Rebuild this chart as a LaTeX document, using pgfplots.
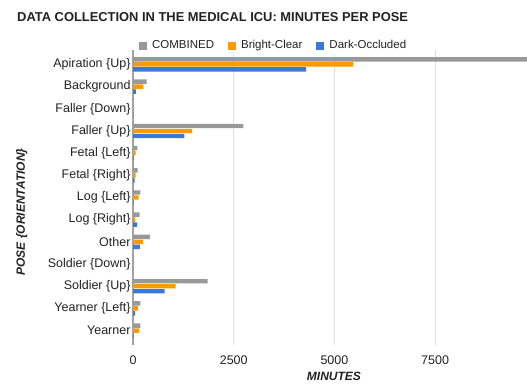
\documentclass[border=0pt]{standalone}
\usepackage{fontspec}
\setmainfont{Liberation Sans}
\usepackage{pgfplots}
\pgfplotsset{compat=1.18}
\definecolor{cgray}{HTML}{999999}
\definecolor{corange}{HTML}{FF9900}
\definecolor{cblue}{HTML}{3C78D8}
\definecolor{cgrid}{HTML}{DDDDDD}
\definecolor{ctext}{HTML}{222222}
\begin{document}
\begin{tikzpicture}
\path[use as bounding box] (0pt,0pt) rectangle (527pt,383pt);
\node[anchor=west, inner sep=0pt, text=ctext, font=\bfseries\fontsize{12.9}{15}\selectfont] at (17pt,365.5pt) {DATA COLLECTION IN THE MEDICAL ICU: MINUTES PER POSE};
\begin{axis}[
  at={(133pt,38pt)}, anchor=south west, scale only axis,
  width=394pt, height=295pt,
  xmin=0, xmax=9780, ymin=-0.65, ymax=12.65,
  y dir=reverse,
  axis line style={draw=none},
  major tick length=0pt,
  ytick={0,...,12},
  yticklabels={Apiration {\{Up\}},Background,Faller {\{Down\}},Faller {\{Up\}},Fetal {\{Left\}},Fetal {\{Right\}},Log {\{Left\}},Log {\{Right\}},Other,Soldier {\{Down\}},Soldier {\{Up\}},Yearner {\{Left\}},Yearner},
  xtick={2500,5000,7500},
  extra x ticks={0},
  extra x tick style={grid style={draw=cgray!90, line width=1.3pt}},
  xmajorgrids,
  grid style={draw=cgrid, line width=0.9pt},
  /pgf/number format/assume math mode=true,
  /pgf/number format/1000 sep={},
  tick label style={text=ctext, font=\fontsize{12.5}{14}\selectfont},
  yticklabel style={xshift=1pt},
  xticklabel style={yshift=-7.5pt},
  xlabel={MINUTES},
  ylabel={POSE \{ORIENTATION\}},
  label style={text=ctext, font=\bfseries\itshape\fontsize{12}{14}\selectfont},
  xlabel style={at={(axis description cs:0.51,-0.108)}, anchor=center},
  ylabel style={at={(axis description cs:-0.282,0.451)}, anchor=center},
  legend columns=3,
  legend style={at={(axis description cs:0.357,1.015)}, anchor=center, draw=none, fill=white, font=\fontsize{11.5}{13}\selectfont, text=ctext, /tikz/every odd column/.append style={column sep=3pt}, /tikz/every even column/.append style={column sep=12pt}},
  legend image code/.code={\fill[#1] (0pt,-4pt) rectangle (8pt,4pt);},
]
\addplot[xbar, bar width=4.4pt, bar shift=5pt, fill=cgray, draw=none] coordinates {
(9800,0) (340,1) (0,2) (2740,3) (110,4) (115,5) (180,6) (165,7) (420,8) (0,9) (1855,10) (180,11) (180,12)};
\addplot[xbar, bar width=4.4pt, bar shift=0pt, fill=corange, draw=none] coordinates {
(5470,0) (255,1) (0,2) (1465,3) (65,4) (65,5) (140,6) (55,7) (250,8) (0,9) (1060,10) (125,11) (150,12)};
\addplot[xbar, bar width=4.4pt, bar shift=-5pt, fill=cblue, draw=none] coordinates {
(4295,0) (70,1) (0,2) (1275,3) (15,4) (40,5) (15,6) (105,7) (170,8) (0,9) (785,10) (55,11) (15,12)};
\legend{COMBINED,Bright-Clear,Dark-Occluded}
\end{axis}
\end{tikzpicture}
\end{document}
